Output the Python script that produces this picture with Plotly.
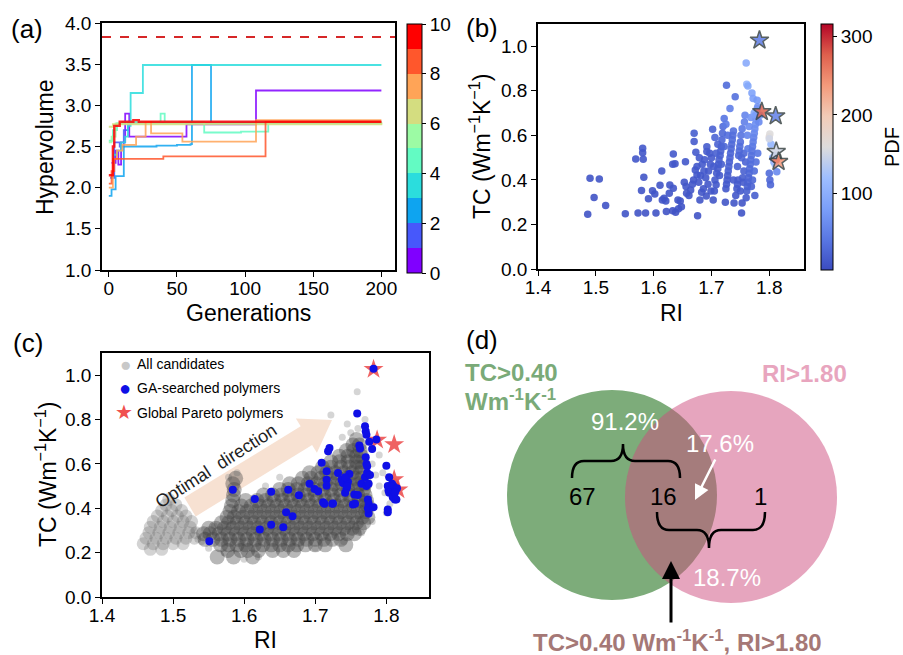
import plotly.graph_objects as go

W, H = 903, 655
def PX(x): return x / W
def PY(y): return 1 - y / H

FONT = "Liberation Sans, Arial, sans-serif"

# ---------------- (a) hypervolume runs ----------------
runs_gen = [
    [2, 5, 7, 9, 12, 15, 57, 108, 200],
    [1, 4, 8, 11, 14, 200],
    [0, 2, 5, 10, 11, 35, 50, 60, 61, 75, 200],
    [3, 6, 9, 12, 14, 16, 25, 200],
    [0, 3, 6, 10, 38, 41, 70, 97, 117, 200],
    [0, 2, 5, 200],
    [0, 3, 200],
    [0, 3, 6, 10, 20, 27, 31, 54, 108, 200],
    [0, 2, 4, 40, 115, 200],
    [0, 2, 3, 4, 8, 18, 22, 200],
]
runs_hv = [
    [2.30, 2.45, 2.28, 2.55, 2.90, 2.62, 2.77, 3.18, 3.18],
    [2.12, 2.55, 2.50, 2.70, 2.79, 2.79],
    [1.90, 1.98, 2.14, 2.14, 2.50, 2.51, 2.52, 2.53, 3.49, 2.79, 2.79],
    [2.40, 2.45, 2.55, 2.62, 2.75, 3.15, 3.49, 3.49],
    [2.57, 2.70, 2.78, 2.80, 2.90, 2.80, 2.67, 2.68, 2.80, 2.80],
    [2.55, 2.62, 2.78, 2.79],
    [2.74, 2.77, 2.79],
    [2.00, 2.35, 2.45, 2.52, 2.62, 2.80, 2.66, 2.56, 2.82, 2.82],
    [2.05, 2.20, 2.35, 2.38, 2.80, 2.80],
    [2.15, 2.15, 2.50, 2.75, 2.80, 2.82, 2.80, 2.80],
]
hv_reference = 3.83
run_colors = ['rgb(128,0,255)', 'rgb(71,88,251)', 'rgb(14,164,240)', 'rgb(43,221,221)',
              'rgb(99,251,195)', 'rgb(156,251,164)', 'rgb(212,221,128)', 'rgb(255,164,87)',
              'rgb(255,87,44)', 'rgb(255,0,0)']
run_ticks = [0, 2, 4, 6, 8, 10]

# ---------------- (b) GA-searched polymers coloured by PDF ----------------
b_ri = [1.486, 1.490, 1.497, 1.506, 1.517, 1.551, 1.569, 1.573, 1.581, 1.581, 1.582, 1.583, 1.579, 1.586, 1.591, 1.598, 1.602, 1.604,
        1.611, 1.614, 1.615, 1.618, 1.621, 1.622, 1.627, 1.633, 1.638, 1.643, 1.634, 1.633, 1.637, 1.628, 1.634, 1.642, 1.646, 1.648, 1.653, 1.656, 1.655, 1.657, 1.661,
        1.670, 1.670, 1.673, 1.675, 1.676, 1.669, 1.672, 1.675, 1.680, 1.683, 1.686, 1.691, 1.692, 1.692, 1.695, 1.698, 1.700, 1.702, 1.664, 1.667, 1.678, 1.681, 1.684, 1.688, 1.690, 1.694, 1.697, 1.687, 1.679, 1.699,
        1.703, 1.705, 1.706, 1.708, 1.709, 1.711, 1.712, 1.713, 1.715, 1.716, 1.717, 1.718, 1.719, 1.720, 1.704, 1.708, 1.714, 1.711, 1.717, 1.706,
        1.722, 1.726, 1.724, 1.725, 1.726, 1.727, 1.728, 1.729, 1.730, 1.731, 1.732, 1.733, 1.734, 1.735, 1.736, 1.737, 1.738, 1.739, 1.725, 1.732, 1.741, 1.738, 1.722, 1.728,
        1.742, 1.744, 1.745, 1.746, 1.747, 1.748, 1.749, 1.750, 1.751, 1.752, 1.753, 1.753, 1.754, 1.755, 1.756, 1.757, 1.758, 1.759, 1.752, 1.745, 1.750, 1.756,
        1.760, 1.761, 1.762, 1.763, 1.764, 1.765, 1.766, 1.767, 1.768, 1.769, 1.770, 1.771, 1.772, 1.773, 1.774, 1.775, 1.776, 1.777, 1.778, 1.779, 1.762, 1.765, 1.768, 1.771, 1.774, 1.777, 1.780, 1.763, 1.769, 1.775,
        1.760, 1.761, 1.763, 1.770, 1.772, 1.779, 1.780, 1.774, 1.776, 1.782, 1.784,
        1.800, 1.801, 1.802, 1.800, 1.801, 1.803, 1.806, 1.808, 1.810, 1.812, 1.813, 1.809, 1.800]
b_tc = [0.246, 0.407, 0.321, 0.404, 0.285, 0.248, 0.494, 0.251, 0.542, 0.522, 0.493, 0.412, 0.352, 0.251, 0.315, 0.351, 0.337, 0.251,
        0.376, 0.440, 0.310, 0.318, 0.305, 0.258, 0.340, 0.262, 0.255, 0.270, 0.516, 0.470, 0.473, 0.377, 0.363, 0.310, 0.305, 0.280, 0.390, 0.370, 0.482, 0.340, 0.330,
        0.609, 0.572, 0.524, 0.422, 0.239, 0.400, 0.445, 0.460, 0.310, 0.345, 0.360, 0.328, 0.549, 0.527, 0.440, 0.470, 0.500, 0.627, 0.355, 0.380, 0.390, 0.420, 0.470, 0.490, 0.410, 0.380, 0.520, 0.440, 0.500, 0.350,
        0.310, 0.350, 0.400, 0.378, 0.430, 0.450, 0.470, 0.490, 0.510, 0.530, 0.550, 0.580, 0.610, 0.640, 0.460, 0.520, 0.420, 0.560, 0.470, 0.590,
        0.676, 0.825, 0.300, 0.360, 0.380, 0.400, 0.420, 0.440, 0.460, 0.480, 0.500, 0.520, 0.540, 0.560, 0.580, 0.600, 0.620, 0.296, 0.650, 0.721, 0.773, 0.400, 0.550, 0.600,
        0.330, 0.360, 0.380, 0.400, 0.510, 0.530, 0.550, 0.570, 0.600, 0.251, 0.296, 0.630, 0.410, 0.390, 0.440, 0.660, 0.690, 0.480, 0.500, 0.460, 0.350, 0.520,
        0.320, 0.350, 0.370, 0.390, 0.410, 0.430, 0.450, 0.470, 0.490, 0.510, 0.530, 0.550, 0.570, 0.590, 0.610, 0.630, 0.650, 0.670, 0.690, 0.720, 0.600, 0.640, 0.680, 0.400, 0.440, 0.480, 0.520, 0.540, 0.370, 0.330,
        0.925, 0.830, 0.822, 0.790, 0.766, 0.758, 0.728, 0.700, 0.690, 0.660, 0.690,
        0.430, 0.400, 0.378, 0.594, 0.606, 0.560, 0.500, 0.480, 0.470, 0.490, 0.437, 0.510, 0.585]
b_pdf = [8, 9, 8, 10, 8, 9, 12, 8, 14, 12, 12, 10, 9, 8, 9, 10, 9, 8,
         10, 12, 9, 9, 9, 8, 10, 8, 8, 9, 14, 13, 12, 10, 11, 9, 9, 9, 11, 11, 13, 10, 10,
         18, 16, 15, 13, 8, 12, 14, 14, 10, 11, 12, 10, 17, 16, 14, 15, 16, 22, 11, 12, 12, 13, 15, 15, 13, 12, 16, 14, 15, 11,
         10, 12, 14, 13, 15, 16, 17, 18, 20, 20, 22, 25, 28, 30, 17, 20, 15, 22, 18, 25,
         40, 30, 10, 13, 14, 15, 16, 18, 20, 22, 24, 25, 26, 28, 30, 32, 35, 10, 45, 50, 35, 15, 26, 32,
         12, 14, 15, 16, 26, 28, 30, 32, 38, 9, 10, 42, 18, 16, 20, 50, 55, 24, 25, 22, 14, 27,
         15, 18, 20, 22, 24, 26, 28, 30, 32, 34, 36, 40, 45, 50, 55, 60, 65, 70, 75, 80, 55, 62, 70, 26, 30, 34, 40, 42, 22, 18,
         95, 110, 90, 85, 80, 75, 70, 90, 80, 60, 70,
         30, 25, 25, 170, 160, 110, 90, 100, 120, 315, 60, 130, 150]
bs_ri = [1.783, 1.787, 1.811, 1.812, 1.816]
bs_tc = [1.027, 0.706, 0.687, 0.527, 0.482]
bs_pdf = [45, 275, 50, 150, 240]
pdf_ticks = [100, 200, 300]

# ---------------- (c) all candidates / GA / Pareto ----------------
all_tc_rows = [0.18, 0.21, 0.235, 0.26, 0.285, 0.31, 0.335, 0.36, 0.385, 0.41, 0.435,
               0.46, 0.485, 0.51, 0.535, 0.56, 0.585, 0.61, 0.635, 0.66, 0.685, 0.71]
all_ri_rows = [
    [1.562, 1.585, 1.612],
    [1.577, 1.595, 1.605, 1.620, 1.640, 1.655, 1.670],
    [1.567, 1.578, 1.590, 1.602, 1.614, 1.626, 1.638, 1.650, 1.662, 1.674, 1.686, 1.700, 1.714, 1.743],
    [1.545, 1.556, 1.568, 1.580, 1.592, 1.604, 1.616, 1.628, 1.640, 1.652, 1.664, 1.676, 1.688, 1.700, 1.712, 1.724, 1.736],
    [1.543, 1.552, 1.565, 1.577, 1.589, 1.601, 1.613, 1.625, 1.637, 1.649, 1.661, 1.673, 1.685, 1.697, 1.709, 1.721, 1.733, 1.745, 1.755],
    [1.550, 1.560, 1.572, 1.584, 1.596, 1.608, 1.620, 1.632, 1.644, 1.656, 1.668, 1.680, 1.692, 1.704, 1.716, 1.728, 1.740, 1.752, 1.762],
    [1.568, 1.578, 1.590, 1.602, 1.614, 1.626, 1.638, 1.650, 1.662, 1.674, 1.686, 1.698, 1.710, 1.722, 1.734, 1.746, 1.758, 1.768],
    [1.576, 1.586, 1.598, 1.610, 1.622, 1.634, 1.646, 1.658, 1.670, 1.682, 1.694, 1.706, 1.718, 1.730, 1.742, 1.754, 1.766, 1.774],
    [1.580, 1.592, 1.604, 1.616, 1.628, 1.640, 1.652, 1.664, 1.676, 1.688, 1.700, 1.712, 1.724, 1.736, 1.748, 1.760, 1.771],
    [1.582, 1.596, 1.610, 1.622, 1.634, 1.646, 1.658, 1.670, 1.682, 1.694, 1.706, 1.718, 1.730, 1.742, 1.754, 1.766, 1.774],
    [1.584, 1.602, 1.618, 1.630, 1.642, 1.654, 1.666, 1.678, 1.690, 1.702, 1.714, 1.726, 1.738, 1.750, 1.762, 1.772],
    [1.585, 1.627, 1.640, 1.652, 1.664, 1.676, 1.688, 1.700, 1.712, 1.724, 1.736, 1.748, 1.760, 1.770],
    [1.586, 1.650, 1.662, 1.674, 1.686, 1.698, 1.710, 1.722, 1.734, 1.746, 1.758, 1.768],
    [1.584, 1.664, 1.676, 1.690, 1.702, 1.714, 1.726, 1.738, 1.750, 1.762, 1.770],
    [1.588, 1.682, 1.694, 1.708, 1.720, 1.732, 1.744, 1.756, 1.765],
    [1.692, 1.704, 1.716, 1.728, 1.740, 1.752, 1.763],
    [1.710, 1.722, 1.736, 1.748, 1.758, 1.766],
    [1.722, 1.734, 1.746, 1.758, 1.766],
    [1.734, 1.746, 1.758, 1.765],
    [1.744, 1.754, 1.763],
    [1.753, 1.762],
    [1.758],
]
blob_tc_rows = [0.215, 0.24, 0.265, 0.29, 0.315, 0.34, 0.365, 0.39, 0.415, 0.44]
blob_ri_rows = [
    [1.468, 1.484],
    [1.458, 1.472, 1.486, 1.500, 1.514],
    [1.462, 1.476, 1.490, 1.504, 1.518, 1.530],
    [1.466, 1.480, 1.494, 1.508, 1.522, 1.532],
    [1.468, 1.482, 1.496, 1.510, 1.524],
    [1.472, 1.486, 1.500, 1.514, 1.526],
    [1.478, 1.492, 1.506, 1.518],
    [1.484, 1.498, 1.512],
    [1.490, 1.504],
    [1.494],
]
fringe_ri = [1.800, 1.805, 1.815, 1.798, 1.790, 1.785, 1.780, 1.790, 1.775, 1.760, 1.770, 1.759, 1.722, 1.750, 1.745,
             1.738, 1.540, 1.545, 1.550, 1.600, 1.572, 1.620, 1.700, 1.740, 1.765, 1.812, 1.795, 1.530, 1.535, 1.558,
             1.578, 1.590, 1.630, 1.650, 1.760, 1.780]
fringe_tc = [0.380, 0.420, 0.440, 0.470, 0.500, 0.550, 0.600, 0.640, 0.700, 0.760, 0.800, 0.925, 0.820, 0.740, 0.780,
             0.720, 0.250, 0.280, 0.220, 0.170, 0.200, 0.180, 0.220, 0.250, 0.290, 0.520, 0.560, 0.300, 0.260, 0.320,
             0.540, 0.560, 0.500, 0.540, 0.300, 0.340]
ga_ri = [1.551, 1.584, 1.615, 1.622, 1.638, 1.638, 1.655, 1.659, 1.668, 1.662, 1.677, 1.692, 1.699, 1.704, 1.711,
         1.725, 1.709, 1.716, 1.716, 1.716, 1.718, 1.720, 1.732, 1.737, 1.739, 1.742, 1.744, 1.746, 1.748, 1.742,
         1.745, 1.753, 1.755, 1.759, 1.762, 1.765, 1.770, 1.770, 1.771, 1.772, 1.771, 1.772, 1.773, 1.773, 1.772,
         1.774, 1.775, 1.775, 1.774, 1.776, 1.777, 1.775, 1.782, 1.786, 1.782, 1.800, 1.802, 1.803, 1.804, 1.802,
         1.802, 1.808, 1.810, 1.811, 1.812, 1.813, 1.815, 1.756, 1.760, 1.724, 1.713, 1.763, 1.780, 1.804, 1.809,
         1.812, 1.814]
ga_tc = [0.251, 0.484, 0.442, 0.304, 0.326, 0.474, 0.314, 0.382, 0.364, 0.484, 0.459, 0.511, 0.487, 0.477, 0.427,
         0.421, 0.605, 0.567, 0.529, 0.502, 0.657, 0.672, 0.559, 0.529, 0.514, 0.470, 0.490, 0.520, 0.555, 0.540,
         0.500, 0.417, 0.462, 0.827, 0.683, 0.510, 0.540, 0.770, 0.747, 0.732, 0.630, 0.600, 0.590, 0.560, 0.500,
         0.440, 0.420, 0.376, 0.400, 0.700, 0.550, 0.510, 0.405, 0.710, 1.029, 0.592, 0.500, 0.480, 0.540, 0.394,
         0.382, 0.510, 0.500, 0.460, 0.440, 0.480, 0.490, 0.420, 0.460, 0.420, 0.420, 0.670, 0.667, 0.470, 0.450,
         0.470, 0.439]
pareto_ri = [1.782, 1.787, 1.811, 1.811, 1.817]
pareto_tc = [1.027, 0.708, 0.688, 0.530, 0.483]
legend_names = ["All candidates", "GA-searched polymers", "Global Pareto polymers"]

# ---------------- (d) Venn ----------------
venn_counts = ["67", "16", "1"]
venn_pcts = ["91.2%", "17.6%", "18.7%"]
venn_sets = ["TC>0.40", "Wm<sup>-1</sup>K<sup>-1</sup>", "RI>1.80",
             "TC>0.40 Wm<sup>-1</sup>K<sup>-1</sup>, RI>1.80"]

# =====================================================
fig = go.Figure()

disc = []
for i, c in enumerate(run_colors):
    disc.append([i / 10, c])
    disc.append([(i + 1) / 10, c])

for i in range(10):
    fig.add_trace(go.Scatter(x=runs_gen[i], y=runs_hv[i], mode="lines",
                             line=dict(color=run_colors[i], width=2.4 if i == 9 else 1.8, shape="hv"),
                             opacity=0.85, xaxis="x", yaxis="y", showlegend=False, hoverinfo="skip"))
fig.add_trace(go.Scatter(x=[None], y=[None], mode="markers", xaxis="x", yaxis="y", showlegend=False,
                         marker=dict(color=[0], cmin=0, cmax=10, colorscale=disc, showscale=True,
                                     colorbar=dict(x=PX(407), xanchor="left", xpad=0, ypad=0,
                                                   y=PY(148.5), yanchor="middle", len=249 / H, lenmode="fraction",
                                                   thickness=15, outlinewidth=1, outlinecolor="black",
                                                   tickvals=run_ticks, ticks="outside", ticklen=4,
                                                   tickcolor="black",
                                                   tickfont=dict(size=19, color="black", family=FONT)))))

coolwarm = [[0.0, "#3b4cc0"], [0.125, "#5977e3"], [0.25, "#7b9ff9"], [0.375, "#9ebeff"],
            [0.5, "#dddcdc"], [0.625, "#f2cbb7"], [0.75, "#f49a7b"], [0.875, "#de604d"], [1.0, "#b40426"]]

fig.add_trace(go.Scatter(x=b_ri, y=b_tc, mode="markers", xaxis="x2", yaxis="y2", showlegend=False,
                         marker=dict(size=7.5, color=b_pdf, cmin=2, cmax=316, colorscale=coolwarm, opacity=0.9,
                                     showscale=True,
                                     colorbar=dict(x=PX(821), xanchor="left", xpad=0, ypad=0,
                                                   y=PY(147), yanchor="middle", len=246 / H, lenmode="fraction",
                                                   thickness=12, outlinewidth=1, outlinecolor="black",
                                                   tickvals=pdf_ticks, ticks="outside", ticklen=4,
                                                   tickcolor="black",
                                                   tickfont=dict(size=19, color="black", family=FONT)))))
fig.add_trace(go.Scatter(x=bs_ri, y=bs_tc, mode="markers", xaxis="x2", yaxis="y2", showlegend=False,
                         marker=dict(symbol="star", size=14, color=bs_pdf, cmin=2, cmax=316,
                                     colorscale=coolwarm, opacity=0.85, showscale=False,
                                     line=dict(color="rgb(60,70,70)", width=1.5))))

# (c)
all_ri, all_tc = [], []
for tcv, row in zip(all_tc_rows, all_ri_rows):
    for r in row:
        all_ri.append(r)
        all_tc.append(tcv)
blob_ri, blob_tc = [], []
for tcv, row in zip(blob_tc_rows, blob_ri_rows):
    for r in row:
        blob_ri.append(r)
        blob_tc.append(tcv)

fig.add_trace(go.Scatter(x=fringe_ri, y=fringe_tc, mode="markers", xaxis="x3", yaxis="y3", showlegend=False,
                         marker=dict(size=7, color="rgba(150,150,150,0.4)", line=dict(width=0))))
fig.add_trace(go.Scatter(x=blob_ri, y=blob_tc, mode="markers", xaxis="x3", yaxis="y3", showlegend=False,
                         marker=dict(size=13, color="rgba(110,110,110,0.3)", line=dict(width=0))))
fig.add_trace(go.Scatter(x=all_ri, y=all_tc, mode="markers", xaxis="x3", yaxis="y3", showlegend=False,
                         marker=dict(size=15, color="rgba(65,65,65,0.38)", line=dict(width=0))))
fig.add_trace(go.Scatter(x=pareto_ri, y=pareto_tc, mode="markers", xaxis="x3", yaxis="y3", showlegend=False,
                         marker=dict(symbol="star", size=15, color="rgba(235,60,60,0.8)")))
fig.add_trace(go.Scatter(x=ga_ri, y=ga_tc, mode="markers", xaxis="x3", yaxis="y3", showlegend=False,
                         marker=dict(size=8, color="rgb(15,15,230)")))

axis_style = dict(showline=True, linecolor="black", linewidth=1.6, mirror=True, ticks="outside",
                  ticklen=5, tickwidth=1.4, tickcolor="black", showgrid=False, zeroline=False,
                  automargin=False, tickfont=dict(size=19, color="black", family=FONT))
xstyle = dict(axis_style, ticklabelstandoff=-5)

fig.update_layout(
    width=W, height=H, margin=dict(l=0, r=0, t=0, b=0),
    paper_bgcolor="white", plot_bgcolor="rgba(0,0,0,0)", hovermode=False,
    font=dict(family=FONT, color="black"),
    xaxis=dict(domain=[PX(102), PX(395)], anchor="y", range=[-5, 210], tickvals=[0, 50, 100, 150, 200], **xstyle),
    yaxis=dict(domain=[PY(270), PY(23)], anchor="x", range=[1.0, 4.0], dtick=0.5, tickformat=".1f", **axis_style),
    xaxis2=dict(domain=[PX(538), PX(804)], anchor="y2", range=[1.4, 1.86], tickvals=[1.4, 1.5, 1.6, 1.7, 1.8],
                tickformat=".1f", **xstyle),
    yaxis2=dict(domain=[PY(269), PY(24)], anchor="x2", range=[0, 1.1], tickvals=[0, 0.2, 0.4, 0.6, 0.8, 1.0],
                tickformat=".1f", **axis_style),
    xaxis3=dict(domain=[PX(102), PX(429)], anchor="y3", range=[1.4, 1.86], tickvals=[1.4, 1.5, 1.6, 1.7, 1.8],
                tickformat=".1f", **xstyle),
    yaxis3=dict(domain=[PY(597), PY(353)], anchor="x3", range=[0, 1.1], tickvals=[0, 0.2, 0.4, 0.6, 0.8, 1.0],
                tickformat=".1f", **axis_style),
)

shapes = []
shapes.append(dict(type="line", xref="x domain", yref="y", x0=0, x1=1, y0=hv_reference, y1=hv_reference,
                   line=dict(color="rgb(214,39,40)", width=1.8, dash="dash")))

# optimal direction arrow (c)
def pth(points):
    s = "M " + " L ".join(f"{PX(x):.5f},{PY(y):.5f}" for x, y in points) + " Z"
    return s
arrow_pts = [(195.7, 516.4), (312.1, 445.1), (316.9, 452.8), (332, 420), (295.9, 418.6), (300.7, 426.3), (184.3, 497.6)]
shapes.append(dict(type="path", xref="paper", yref="paper", path=pth(arrow_pts), layer="below",
                   fillcolor="rgba(240,195,165,0.5)", line=dict(width=0)))

# Venn circles
def circ(cx, cy, r, color, op):
    return dict(type="circle", xref="paper", yref="paper", x0=PX(cx - r), x1=PX(cx + r),
                y0=PY(cy + r), y1=PY(cy - r), fillcolor=color, opacity=op, line=dict(width=0), layer="above")
shapes.append(circ(612, 495, 105, "rgb(125,172,122)", 1.0))
shapes.append(circ(731, 497, 106, "rgb(205,75,125)", 0.5))

def brace(x1, x2, xm, y0, yc, r=12):
    ys = (y0 + yc) / 2
    P = lambda x, y: f"{PX(x):.5f},{PY(y):.5f}"
    return (f"M {P(x1, y0)} Q {P(x1, ys)} {P(x1 + r, ys)} L {P(xm - r, ys)} Q {P(xm, ys)} {P(xm, yc)} "
            f"Q {P(xm, ys)} {P(xm + r, ys)} L {P(x2 - r, ys)} Q {P(x2, ys)} {P(x2, y0)}")
shapes.append(dict(type="path", xref="paper", yref="paper", path=brace(572, 680, 623, 478, 444),
                   line=dict(color="black", width=2.5), layer="above"))
shapes.append(dict(type="path", xref="paper", yref="paper", path=brace(657, 765, 709, 512, 548),
                   line=dict(color="black", width=2.5), layer="above"))
fig.update_layout(shapes=shapes)

ann = []
def text(x, y, s, size=23, color="black", angle=0, bold=False, xanchor="center"):
    if bold:
        s = "<b>" + s + "</b>"
    ann.append(dict(x=PX(x), y=PY(y), xref="paper", yref="paper", text=s, showarrow=False,
                    textangle=angle, xanchor=xanchor, yanchor="middle",
                    font=dict(size=size, color=color, family=FONT)))

# panel labels
text(27, 29, "(a)", 26)
text(482, 28, "(b)", 26)
text(28, 343, "(c)", 26)
text(482, 340, "(d)", 26)
# axis titles
text(248.5, 313, "Generations")
text(45, 147, "Hypervolume", angle=-90)
text(671, 313, "RI")
text(480, 147, "TC (Wm<sup>−1</sup>K<sup>−1</sup>)", angle=-90)
text(892, 147, "PDF", 20, angle=-90)
text(265, 640, "RI")
text(46, 475, "TC (Wm<sup>−1</sup>K<sup>−1</sup>)", angle=-90)
# legend (c)
text(125, 364, "●", 19, "rgb(200,200,200)")
text(125, 388, "●", 20, "rgb(15,15,230)")
text(124, 412, "★", 20, "rgb(240,80,80)")
text(135, 364, legend_names[0], 14, xanchor="left")
text(135, 388, legend_names[1], 14, xanchor="left")
text(135, 413, legend_names[2], 14, xanchor="left")
text(216, 466, "Optimal  direction", 18, "rgb(30,30,30)", angle=-32.5)
# Venn texts
text(463, 372, venn_sets[0], 24, "rgb(122,170,120)", bold=True, xanchor="left")
text(463, 400, venn_sets[1], 24, "rgb(122,170,120)", bold=True, xanchor="left")
text(804, 373, venn_sets[2], 24, "rgb(232,165,190)", bold=True)
text(677, 641, venn_sets[3], 24, "rgb(165,120,118)", bold=True)
text(582, 497, venn_counts[0], 24)
text(663, 497, venn_counts[1], 24)
text(760, 497, venn_counts[2], 24)
text(625, 421, venn_pcts[0], 24, "white")
text(720, 443, venn_pcts[1], 24, "white")
text(727, 577, venn_pcts[2], 24, "white")
# arrows (d)
ann.append(dict(x=PX(695), y=PY(500), xref="paper", yref="paper", ax=21, ay=-42, text="", showarrow=True,
                arrowhead=2, arrowsize=1.2, arrowwidth=2.5, arrowcolor="white"))
ann.append(dict(x=PX(671), y=PY(561), xref="paper", yref="paper", ax=0, ay=63, text="", showarrow=True,
                arrowhead=2, arrowsize=1.2, arrowwidth=3, arrowcolor="black"))
fig.update_layout(annotations=ann)

fig.write_html("out.html")
